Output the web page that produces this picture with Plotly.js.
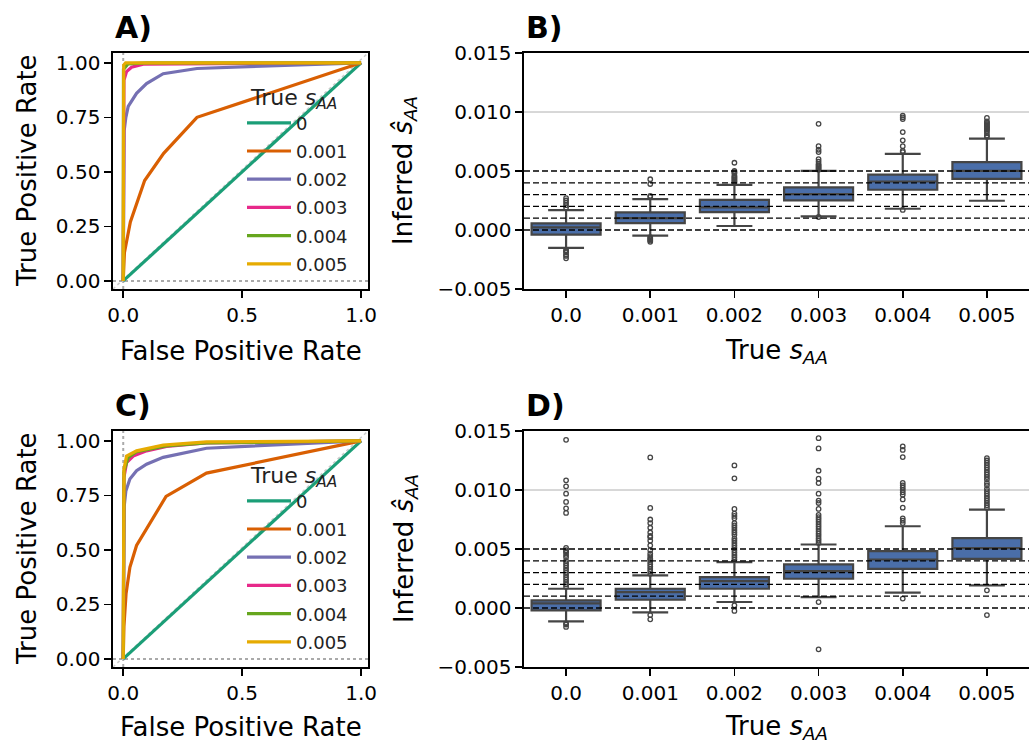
<!DOCTYPE html>
<html><head><meta charset="utf-8">
<script src="https://cdn.plot.ly/plotly-3.0.1.min.js"></script>
<style>html,body{margin:0;padding:0;background:#fff}#chart{width:1029px;height:743px}</style>
</head><body><div id="chart"></div><script>
// ---------- data ----------
const sLabels = ['0', '0.001', '0.002', '0.003', '0.004', '0.005'];
const lineColors = ['#1b9e77', '#d95f02', '#7570b3', '#e7298a', '#66a61e', '#e6ab02'];

// ROC curves, panel A (first simulation set)
const rocA_fpr = [
  [0, 1],
  [0, 0.005, 0.03, 0.09, 0.17, 0.31, 1],
  [0, 0.004, 0.011, 0.021, 0.056, 0.098, 0.168, 0.31, 1],
  [0, 0.003, 0.014, 0.035, 0.084, 1],
  [0, 0.001, 0.02, 0.1, 1],
  [0, 0.002, 0.01, 1]
];
const rocA_tpr = [
  [0, 1],
  [0, 0.13, 0.27, 0.46, 0.585, 0.75, 1],
  [0, 0.69, 0.75, 0.80, 0.86, 0.905, 0.95, 0.974, 1],
  [0, 0.92, 0.96, 0.98, 0.994, 1],
  [0, 0.97, 0.995, 1, 1],
  [0, 0.99, 1, 1]
];
// ROC curves, panel C (second simulation set)
const rocC_fpr = [
  [0, 1],
  [0, 0.003, 0.012, 0.028, 0.056, 0.112, 0.18, 0.35, 1],
  [0, 0.004, 0.011, 0.028, 0.056, 0.098, 0.168, 0.35, 1],
  [0, 0.003, 0.014, 0.042, 0.098, 0.182, 0.35, 1],
  [0, 0.003, 0.021, 0.056, 0.18, 0.35, 1],
  [0, 0.003, 0.014, 0.056, 0.168, 0.35, 1]
];
const rocC_tpr = [
  [0, 1],
  [0, 0.15, 0.30, 0.42, 0.52, 0.62, 0.745, 0.852, 1],
  [0, 0.70, 0.77, 0.825, 0.863, 0.893, 0.924, 0.966, 1],
  [0, 0.832, 0.90, 0.93, 0.954, 0.974, 0.99, 1],
  [0, 0.86, 0.924, 0.95, 0.977, 0.99, 1],
  [0, 0.87, 0.93, 0.954, 0.98, 0.995, 1]
];

// box plots: categories (true s_AA)
const boxCats = ['0.0', '0.001', '0.002', '0.003', '0.004', '0.005'];
const trueValues = [0, 0.001, 0.002, 0.003, 0.004, 0.005];

// panel B stats
const B_q1  = [-0.00039, 0.00059, 0.00152, 0.00251, 0.00341, 0.00434];
const B_med = [0.00022, 0.00101, 0.00192, 0.00304, 0.00411, 0.00501];
const B_q3  = [0.00056, 0.00149, 0.00256, 0.00361, 0.00470, 0.00575];
const B_lo  = [-0.00152, -0.00048, 0.00034, 0.00115, 0.00180, 0.00248];
const B_hi  = [0.00169, 0.00262, 0.00383, 0.00501, 0.00645, 0.00775];
const B_out = [
  [0.0027, 0.0025, 0.0023, 0.0021, 0.0019, -0.0017, -0.0018, -0.0019, -0.0021, -0.0022, -0.0024],
  [0.0043, 0.0039, 0.0029, 0.0028, -0.0006, -0.0007, -0.0008, -0.0009, -0.001],
  [0.0057, 0.0050, 0.0049, 0.0048, 0.0046, 0.0045, 0.0044, 0.0043, 0.0042, 0.0041, 0.0040],
  [0.0090, 0.0071, 0.0068, 0.0066, 0.0060, 0.0058, 0.0056, 0.0055, 0.0054, 0.0053, 0.0052, 0.0051, 0.0011],
  [0.0097, 0.00955, 0.0094, 0.0083, 0.0076, 0.0071, 0.0067, 0.0066, 0.0017],
  [0.0095, 0.0092, 0.0091, 0.0090, 0.0089, 0.0088, 0.0087, 0.0086, 0.0085, 0.0084, 0.0082, 0.0080, 0.0079]
];

// panel D stats
const D_q1  = [-0.00020, 0.00070, 0.00163, 0.00248, 0.00332, 0.00417];
const D_med = [0.00039, 0.00135, 0.00228, 0.00313, 0.00411, 0.00507];
const D_q3  = [0.00065, 0.00163, 0.00262, 0.00369, 0.00482, 0.00592];
const D_lo  = [-0.00113, -0.00037, 0.00051, 0.00093, 0.00130, 0.00192];
const D_hi  = [0.00163, 0.00276, 0.00389, 0.00538, 0.00693, 0.00834];
const D_out = [
  [0.01425, 0.01082, 0.01031, 0.00969, 0.00899, 0.00845, 0.00806, 0.0051, 0.0049, 0.0048, 0.0047, 0.0045, 0.0043, 0.0040, 0.0038, 0.0036, 0.0034, 0.0032, 0.0030, 0.0028, 0.0026, 0.0024, 0.0022, 0.0020, 0.0018, -0.0013, -0.0014, -0.0016],
  [0.01276, 0.00848, 0.0075, 0.0072, 0.0068, 0.0064, 0.0061, 0.0060, 0.0057, 0.0053, 0.0049, 0.0046, 0.0044, 0.0042, 0.0041, 0.0039, 0.0037, 0.0035, 0.0033, 0.0031, 0.0029, -0.0006, -0.00096],
  [0.01208, 0.01099, 0.0084, 0.0080, 0.0078, 0.0076, 0.0072, 0.0070, 0.0068, 0.0066, 0.0064, 0.0062, 0.0059, 0.0057, 0.0055, 0.0053, 0.0051, 0.0049, 0.0047, 0.0045, 0.0043, 0.0041, 0.00023, -0.00025],
  [0.01439, 0.01352, 0.01163, 0.01096, 0.01059, 0.00969, 0.0091, 0.0089, 0.0084, 0.0079, 0.0077, 0.0075, 0.0073, 0.0071, 0.0069, 0.0067, 0.0065, 0.0063, 0.0061, 0.0059, 0.0057, 0.0055, 0.0005, -0.0035],
  [0.01369, 0.0134, 0.01279, 0.0106, 0.0104, 0.0102, 0.0100, 0.0098, 0.0096, 0.0092, 0.0085, 0.0076, 0.0074, 0.0072, 0.0008],
  [0.0127, 0.0125, 0.0123, 0.0121, 0.0119, 0.0117, 0.0115, 0.0113, 0.0111, 0.0109, 0.0106, 0.0104, 0.0101, 0.0099, 0.0097, 0.0095, 0.0093, 0.0091, 0.0089, 0.0087, 0.0085, 0.0015, -0.0006]
];

// ---------- figure ----------
const W = 1029, H = 743;
const PX = p => p / W;
const PY = p => 1 - p / H;
const FONT = 'DejaVu Sans, Liberation Sans, sans-serif';
const boxFill = '#4a6ea9';
const boxEdge = '#454545';

const traces = [];
function addRoc(fprs, tprs, xa, ya, legendName, prefix) {
  for (let i = 0; i < sLabels.length; i++) {
    traces.push({
      type: 'scatter', mode: 'lines', x: fprs[i], y: tprs[i], xaxis: xa, yaxis: ya,
      name: sLabels[i], legend: legendName, legendgroup: prefix + i,
      line: {color: lineColors[i], width: 3.2}, hoverinfo: 'skip'
    });
  }
}
addRoc(rocA_fpr, rocA_tpr, 'x', 'y', 'legend', 'a');
addRoc(rocC_fpr, rocC_tpr, 'x3', 'y3', 'legend2', 'c');

function addBox(q1, med, q3, lo, hi, out, xa, ya) {
  traces.push({
    type: 'box', x: boxCats, q1: q1, median: med, q3: q3, lowerfence: lo, upperfence: hi,
    xaxis: xa, yaxis: ya, boxpoints: false, width: 0.82, whiskerwidth: 0.52,
    fillcolor: boxFill, line: {color: boxEdge, width: 2.2}, showlegend: false, hoverinfo: 'skip'
  });
  const ox = [], oy = [];
  out.forEach((arr, i) => arr.forEach(v => { ox.push(boxCats[i]); oy.push(v); }));
  traces.push({
    type: 'scatter', mode: 'markers', x: ox, y: oy, xaxis: xa, yaxis: ya, showlegend: false,
    marker: {symbol: 'circle-open', size: 4.5, color: boxEdge, line: {width: 1.3, color: boxEdge}}, hoverinfo: 'skip'
  });
}
addBox(B_q1, B_med, B_q3, B_lo, B_hi, B_out, 'x2', 'y2');
addBox(D_q1, D_med, D_q3, D_lo, D_hi, D_out, 'x4', 'y4');

const tickFont = {family: FONT, size: 20, color: '#000'};
const axBase = {
  showline: true, linecolor: '#000', linewidth: 1.6, ticks: 'outside', ticklen: 7, tickwidth: 1.6,
  tickcolor: '#000', showgrid: false, zeroline: false, tickfont: tickFont, fixedrange: true
};
const row1 = [PY(289), PY(53)];
const row2 = [PY(667), PY(431)];
const rocX = (anchor) => Object.assign({}, axBase, {
  domain: [PX(113), PX(368)], range: [-0.043, 1.029], mirror: true, anchor: anchor,
  tickvals: [0, 0.5, 1], ticktext: ['0.0', '0.5', '1.0']
});
const rocY = (anchor, dom) => Object.assign({}, axBase, {
  domain: dom, range: [-0.037, 1.045], mirror: true, anchor: anchor,
  tickvals: [0, 0.25, 0.5, 0.75, 1], ticktext: ['0.00', '0.25', '0.50', '0.75', '1.00']
});
const boxX = (anchor) => Object.assign({}, axBase, {
  domain: [PX(524), 1], type: 'category', range: [-0.5, 5.5], mirror: true, anchor: anchor,
  categoryorder: 'array', categoryarray: boxCats
});
const boxY = (anchor, dom) => Object.assign({}, axBase, {
  domain: dom, range: [-0.005, 0.015], mirror: false, anchor: anchor,
  tickvals: [-0.005, 0, 0.005, 0.01, 0.015], ticktext: ['\u22120.005', '0.000', '0.005', '0.010', '0.015']
});

const shapes = [];
[['x', 'y'], ['x3', 'y3']].forEach(([xa, ya]) => {
  const dot = {color: '#aaaaaa', width: 2, dash: 'dot'};
  shapes.push({type: 'line', layer: 'below', xref: xa + ' domain', yref: ya, x0: 0, x1: 1, y0: 0, y1: 0, line: dot});
  shapes.push({type: 'line', layer: 'below', xref: xa, yref: ya + ' domain', x0: 0, x1: 0, y0: 0, y1: 1, line: dot});
  shapes.push({type: 'line', layer: 'below', xref: xa + ' domain', yref: ya + ' domain', x0: 0, x1: 1, y0: 0, y1: 1, line: {color: '#cccccc', width: 1.5, dash: 'dot'}});
});
[['x2', 'y2'], ['x4', 'y4']].forEach(([xa, ya]) => {
  shapes.push({type: 'line', layer: 'below', xref: xa + ' domain', yref: ya, x0: 0, x1: 1, y0: 0.01, y1: 0.01, line: {color: '#b0b0b0', width: 1}});
  trueValues.forEach(v => shapes.push({
    type: 'line', layer: 'above', xref: xa + ' domain', yref: ya, x0: 0, x1: 1, y0: v, y1: v,
    line: {color: '#000', width: 1.3, dash: '6px,3px'}
  }));
});

const ann = [];
const lab = (t, x, y, opt) => ann.push(Object.assign({
  text: t, xref: 'paper', yref: 'paper', x: PX(x), y: PY(y), showarrow: false,
  xanchor: 'center', yanchor: 'middle', font: {family: FONT, size: 26, color: '#000'}
}, opt || {}));
const sAA = '<i>s</i><sub><i>AA</i></sub>';
[0, 378].forEach(dy => {
  lab('True Positive Rate', 27, 171 + dy, {textangle: -90});
  lab('False Positive Rate', 241, 351 + dy * 0.995);
  lab('Inferred <i>\u015d</i><sub><i>AA</i></sub>', 405, 171 + dy, {textangle: -90});
  lab('True ' + sAA, 776, 351 + dy * 0.995);
});
lab('<b>A)</b>', 113, 28, {xanchor: 'left', font: {family: FONT, size: 30, color: '#000'}});
lab('<b>B)</b>', 524, 28, {xanchor: 'left', font: {family: FONT, size: 30, color: '#000'}});
lab('<b>C)</b>', 113, 406, {xanchor: 'left', font: {family: FONT, size: 30, color: '#000'}});
lab('<b>D)</b>', 524, 406, {xanchor: 'left', font: {family: FONT, size: 30, color: '#000'}});

const legBase = (y) => ({
  xref: 'paper', yref: 'paper', x: PX(242), y: PY(y), xanchor: 'left', yanchor: 'top',
  bgcolor: 'rgba(0,0,0,0)', borderwidth: 0, itemwidth: 44, traceorder: 'grouped', tracegroupgap: 1.8,
  font: {family: FONT, size: 18, color: '#222'},
  title: {text: '&nbsp;True ' + sAA, font: {family: FONT, size: 22, color: '#222'}}
});

const layout = {
  width: W, height: H, margin: {l: 0, r: 0, t: 0, b: 0},
  paper_bgcolor: '#fff', plot_bgcolor: '#fff', showlegend: true,
  xaxis: rocX('y'), yaxis: rocY('x', row1),
  xaxis2: boxX('y2'), yaxis2: boxY('x2', row1),
  xaxis3: rocX('y3'), yaxis3: rocY('x3', row2),
  xaxis4: boxX('y4'), yaxis4: boxY('x4', row2),
  legend: legBase(76), legend2: legBase(454),
  shapes: shapes, annotations: ann
};

Plotly.newPlot('chart', traces, layout, {staticPlot: true, displayModeBar: false});
</script></body></html>
